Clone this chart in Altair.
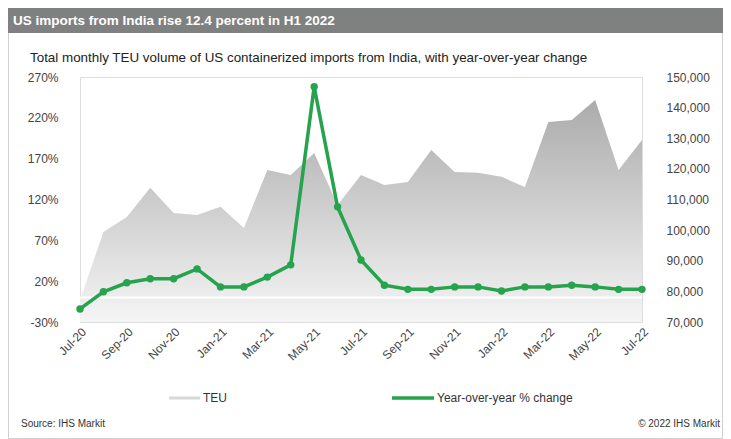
import altair as alt
import pandas as pd

months = ["Jul-20", "Aug-20", "Sep-20", "Oct-20", "Nov-20", "Dec-20", "Jan-21", "Feb-21",
          "Mar-21", "Apr-21", "May-21", "Jun-21", "Jul-21", "Aug-21", "Sep-21", "Oct-21",
          "Nov-21", "Dec-21", "Jan-22", "Feb-22", "Mar-22", "Apr-22", "May-22", "Jun-22", "Jul-22"]
teu = [77200, 99400, 104300, 113800, 105600, 104900, 107600, 100700, 119600, 118000,
       125200, 108200, 118000, 114700, 115700, 126200, 119000, 118700, 117400, 114100,
       135300, 136000, 142500, 119600, 129400]
yoy = [-14, 7, 18, 23, 23, 35, 13, 13, 25, 40, 258, 111, 46, 15, 10, 10, 13, 13, 8, 13,
       13, 15, 13, 10, 10]
x_labels = ["Jul-20", "Sep-20", "Nov-20", "Jan-21", "Mar-21", "May-21", "Jul-21", "Sep-21",
            "Nov-21", "Jan-22", "Mar-22", "May-22", "Jul-22"]
left_ticks = [-30, 20, 70, 120, 170, 220, 270]
right_ticks = [70000, 80000, 90000, 100000, 110000, 120000, 130000, 140000, 150000]

title = "US imports from India rise 12.4 percent in H1 2022"
subtitle = "Total monthly TEU volume of US containerized imports from India, with year-over-year change"
source = "Source: IHS Markit"
copyright_txt = "\u00a9 2022 IHS Markit"

df = pd.DataFrame({"month": months, "teu": teu, "yoy": yoy})
one = pd.DataFrame({"a": [0]})

FONT = "Liberation Sans"
GREEN = "#26a34d"

xenc = alt.X("month:O", sort=None, title=None,
             scale=alt.Scale(type="point", padding=0),
             axis=alt.Axis(values=x_labels, labelAngle=315, labelAlign="right",
                           labelBaseline="top", labelFontSize=12, labelColor="#444444",
                           labelFont=FONT, ticks=False, domain=False, grid=False,
                           labelPadding=4))

area = alt.Chart(df).mark_area(
    clip=True,
    color=alt.Gradient(gradient="linear", x1=0, y1=0, x2=0, y2=1,
                       stops=[alt.GradientStop(color="#ababab", offset=0),
                              alt.GradientStop(color="#f5f5f5", offset=1)])
).encode(
    x=xenc,
    y=alt.Y("teu:Q", title=None, stack=None,
            scale=alt.Scale(domain=[70000, 150000], nice=False, zero=False),
            axis=alt.Axis(orient="right", values=right_ticks,
                          labelExpr="format(datum.value, ',')",
                          labelFontSize=12, labelColor="#444444", labelFont=FONT,
                          ticks=False, domain=False, grid=False, labelPadding=24)),
    y2=alt.datum(70000)
)

zero_rule = alt.Chart(one).mark_rule(color="white", strokeWidth=2).encode(
    y=alt.Y("z:Q", scale=alt.Scale(domain=[-30, 270], nice=False, zero=False), axis=None),
    x=alt.value(0), x2=alt.value(562)
).transform_calculate(z="0")

line = alt.Chart(df).mark_line(
    color=GREEN, strokeWidth=3.5,
    point=alt.OverlayMarkDef(color=GREEN, size=55, filled=True, opacity=1)
).encode(
    x=xenc,
    y=alt.Y("yoy:Q", title=None,
            scale=alt.Scale(domain=[-30, 270], nice=False, zero=False),
            axis=alt.Axis(orient="left", values=left_ticks, labelExpr="datum.value + '%'",
                          labelFontSize=12, labelColor="#444444", labelFont=FONT,
                          ticks=False, domain=False, grid=False, labelPadding=22))
)

def txt(s, x, y, size=12, color="#333333", weight="normal", align="left",
        baseline="alphabetic", font=FONT):
    return alt.Chart(one).mark_text(
        text=s, fontSize=size, color=color, fontWeight=weight, align=align,
        baseline=baseline, font=font
    ).encode(x=alt.value(x), y=alt.value(y))

frame = alt.Chart(one).mark_rect(filled=False, stroke="#d0d0d0", strokeWidth=1).encode(
    x=alt.value(-71.5), x2=alt.value(642.5), y=alt.value(-68.5), y2=alt.value(361.5))

title_bar = alt.Chart(one).mark_rect(fill="#7f8180").encode(
    x=alt.value(-72), x2=alt.value(643), y=alt.value(-69), y2=alt.value(-44))

teu_leg = alt.Chart(one).mark_rule(color="#d9d9d9", strokeWidth=3).encode(
    x=alt.value(89), x2=alt.value(120), y=alt.value(321))
yoy_leg = alt.Chart(one).mark_rule(color=GREEN, strokeWidth=3.5).encode(
    x=alt.value(312), x2=alt.value(354), y=alt.value(321))

chart = alt.layer(
    area, zero_rule, line,
    frame, title_bar,
    txt(title, -67, -52, size=13.5, color="white", weight="bold"),
    txt(subtitle, -50, -15, size=13.4, color="#222222"),
    teu_leg, txt("TEU", 123, 321, size=12, baseline="middle"),
    yoy_leg, txt("Year-over-year % change", 357, 321, size=12, baseline="middle"),
    txt(source, -59, 350, size=10),
    txt(copyright_txt, 640, 350, size=10, align="right"),
).resolve_scale(y="independent").properties(
    width=562, height=245,
    autosize=alt.AutoSizeParams(type="none"),
    padding={"left": 72, "top": 69, "right": 81, "bottom": 117}
).configure_view(stroke=None).configure(background="white")

chart.save("out.html", embed_options={"renderer": "svg", "actions": False})
